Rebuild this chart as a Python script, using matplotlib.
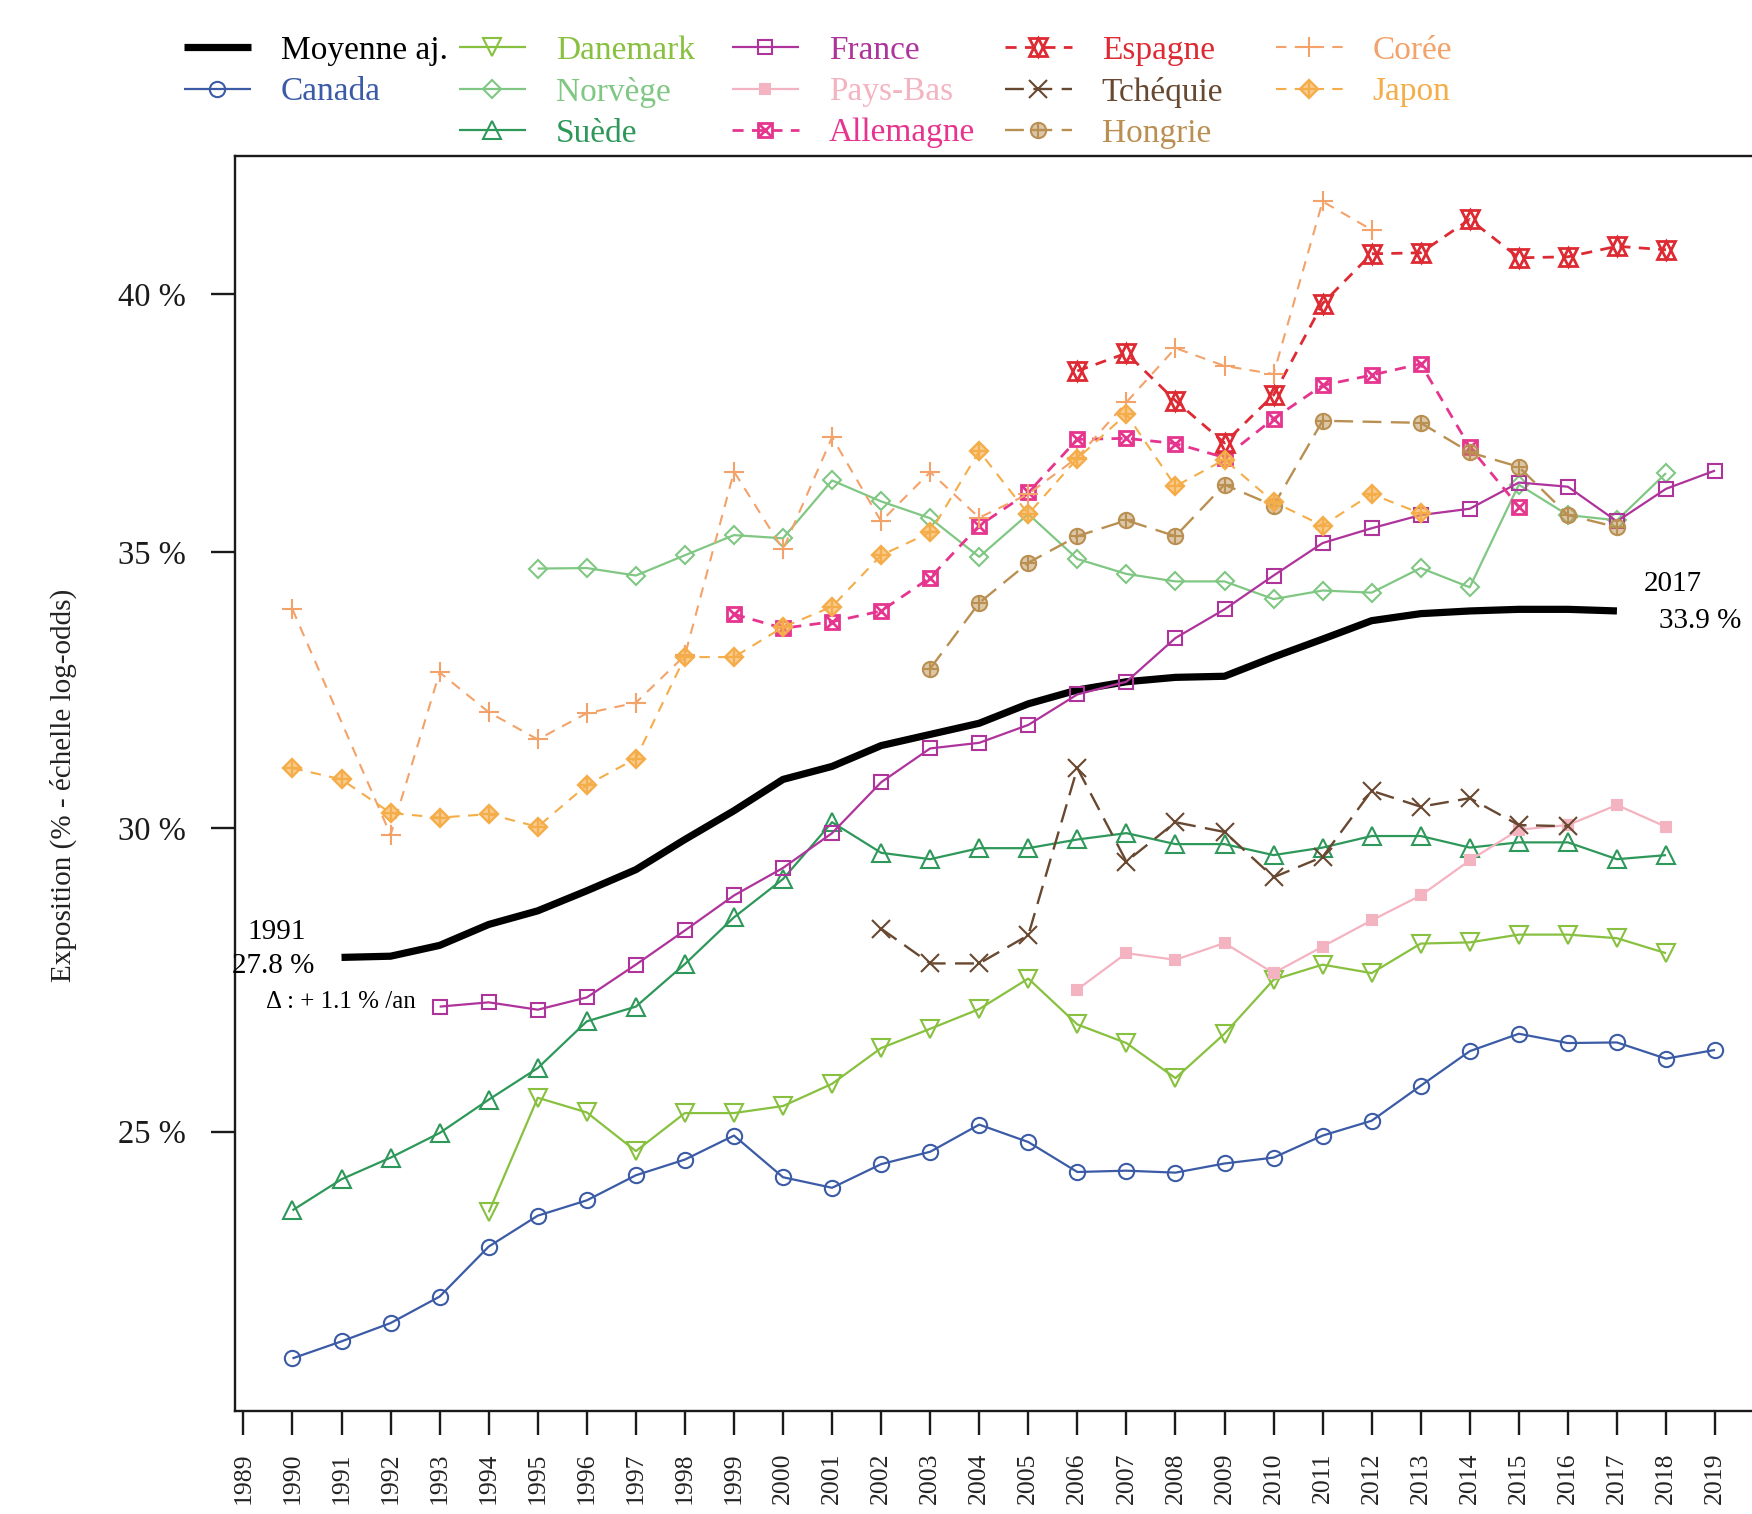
import numpy as np
import matplotlib
matplotlib.use("Agg")
import matplotlib.pyplot as plt
from matplotlib.ticker import NullLocator, NullFormatter
from matplotlib.colors import to_rgba

plt.rcParams['font.family'] = ['Liberation Serif', 'DejaVu Serif']

nan = np.nan

# ---------------- data (percent) ----------------
moyenne_years = list(range(1991, 2018))
moyenne = [27.8, 27.82, 28.0, 28.35, 28.58, 28.92, 29.28, 29.8, 30.3, 30.85,
           31.08, 31.45, 31.65, 31.85, 32.2, 32.45, 32.6, 32.68, 32.7, 33.05,
           33.38, 33.72, 33.85, 33.9, 33.93, 33.93, 33.9]

canada_years = list(range(1990, 2020))
canada = [21.65, 21.89, 22.15, 22.53, 23.26, 23.72, 23.95, 24.33, 24.57, 24.94,
          24.3, 24.14, 24.5, 24.69, 25.11, 24.84, 24.38, 24.4, 24.37, 24.51,
          24.6, 24.94, 25.17, 25.72, 26.27, 26.55, 26.4, 26.41, 26.15, 26.29]

danemark_years = list(range(1994, 2019))
danemark = [23.77, 25.53, 25.3, 24.7, 25.29, 25.29, 25.4, 25.75, 26.32, 26.63,
            26.95, 27.45, 26.7, 26.4, 25.84, 26.55, 27.43, 27.68, 27.54, 28.03,
            28.05, 28.18, 28.18, 28.12, 27.87]

norvege_years = list(range(1995, 2019))
norvege = [34.69, 34.7, 34.56, 34.94, 35.32, 35.26, 36.36, 35.96, 35.64, 34.91,
           35.72, 34.87, 34.59, 34.45, 34.45, 34.12, 34.28, 34.24, 34.7, 34.34,
           36.28, 35.7, 35.6, 36.5]

suede_years = list(range(1990, 2019))
suede = [23.8, 24.27, 24.6, 24.98, 25.5, 26.0, 26.75, 26.99, 27.69, 28.47,
         29.12, 30.1, 29.57, 29.46, 29.65, 29.65, 29.8, 29.91, 29.72, 29.72,
         29.53, 29.66, 29.86, 29.86, 29.66, 29.75, 29.75, 29.46, 29.53]

france_years = list(range(1993, 2020))
france = [26.99, 27.06, 26.94, 27.14, 27.68, 28.25, 28.84, 29.31, 29.91, 30.8,
          31.4, 31.5, 31.82, 32.37, 32.6, 33.4, 33.93, 34.56, 35.17, 35.45,
          35.7, 35.82, 36.32, 36.24, 35.58, 36.2, 36.55]

paysbas_years = list(range(2006, 2019))
paysbas = [27.27, 27.87, 27.76, 28.04, 27.54, 27.98, 28.42, 28.84, 29.44, 29.97,
           30.05, 30.4, 30.02]

allemagne_years = list(range(1999, 2016))
allemagne = [33.84, 33.58, 33.7, 33.9, 34.52, 35.5, 36.13, 37.15, 37.17, 37.07,
             36.8, 37.55, 38.2, 38.4, 38.62, 37.0, 35.86]

espagne_years = list(range(2006, 2019))
espagne = [38.48, 38.83, 37.9, 37.08, 38.01, 39.81, 40.8, 40.82, 41.49, 40.72,
           40.74, 40.95, 40.88]

tchequie_years = list(range(2002, 2017))
tchequie = [28.28, 27.7, 27.7, 28.17, 31.05, 29.42, 30.1, 29.93, 29.15, 29.5,
            30.65, 30.37, 30.52, 30.05, 30.03]

hongrie_years = list(range(2003, 2018))
hongrie = [32.84, 34.05, 34.8, 35.3, 35.6, 35.3, 36.28, 35.88, 37.51, nan,
           37.47, 36.9, 36.62, 35.7, 35.47]

coree_years = list(range(1990, 2013))
coree = [33.93, nan, 29.88, 32.77, 32.05, 31.56, 32.03, 32.22, 33.08, 36.53,
         35.05, 37.19, 35.58, 36.52, 35.65, 36.1, 36.8, 37.87, 38.93, 38.58,
         38.42, 41.85, 41.28]

japon_years = list(range(1990, 2014))
japon = [31.05, 30.85, 30.26, 30.18, 30.24, 30.02, 30.75, 31.22, 33.05, 33.05,
         33.6, 33.98, 34.94, 35.37, 36.92, 35.72, 36.78, 37.64, 36.25, 36.76,
         35.95, 35.5, 36.1, 35.73]

tick_years = list(range(1989, 2020))
ytick_pct = [25, 30, 35, 40]

# ---------------- figure ----------------
W, H = 1752, 1514
fig = plt.figure(figsize=(W / 100, H / 100), dpi=100)
ax = fig.add_axes([0.1339, 0.068, 0.985, 0.8287])
ax.set_yscale('logit')
ax.set_xlim(1988.82, 2024)
ax.set_ylim(0.2092, 0.4276)

C = {
    'can': '#3B5BA6', 'dan': '#88C040', 'nor': '#80C784', 'sue': '#2E985A',
    'fra': '#AE339B', 'pb': '#F4B3C0', 'all': '#E5358E', 'esp': '#DD2A33',
    'tch': '#684830', 'hon': '#BA9052', 'cor': '#F3A26A', 'jap': '#F5AD4A',
}


def series(yrs, vals, color, marker, ms, lw=1.6, dashes=None, overlay=None,
           mfc='none', mew=1.5, zorder=3):
    x = np.asarray(yrs, float)
    y = np.asarray(vals, float) / 100.0
    ok = ~np.isnan(y)
    line, = ax.plot(x[ok], y[ok], color=color, lw=lw, marker=marker, ms=ms,
                    mfc=mfc, mec=color, mew=mew, zorder=zorder,
                    solid_capstyle='butt', dash_capstyle='butt')
    if dashes is not None:
        line.set_dashes(dashes)
    handles = [line]
    if overlay is not None:
        m2, ms2 = overlay
        o, = ax.plot(x[ok], y[ok], ls='none', marker=m2, ms=ms2, mfc='none',
                     mec=color, mew=mew, color=color, zorder=zorder)
        handles.append(o)
    return tuple(handles) if len(handles) > 1 else handles[0]


h_moy, = ax.plot(np.asarray(moyenne_years, float), np.asarray(moyenne) / 100,
                 color='black', lw=5.2, zorder=2, solid_capstyle='butt')

h_can = series(canada_years, canada, C['can'], 'o', 11)
h_dan = series(danemark_years, danemark, C['dan'], 'v', 13)
h_nor = series(norvege_years, norvege, C['nor'], 'D', 9.2)
h_sue = series(suede_years, suede, C['sue'], '^', 13)
h_fra = series(france_years, france, C['fra'], 's', 10)
h_pb = series(paysbas_years, paysbas, C['pb'], 's', 7.5, mfc=C['pb'])
h_all = series(allemagne_years, allemagne, C['all'], 's', 10, lw=2.0,
               dashes=(4, 3), overlay=('x', 10), mew=2.0)
h_esp = series(espagne_years, espagne, C['esp'], '^', 13, lw=2.0,
               dashes=(4, 3), overlay=('v', 13), mew=2.0)
h_tch = series(tchequie_years, tchequie, C['tch'], 'x', 12.5, lw=1.7,
               dashes=(8, 4))
h_hon = series(hongrie_years, hongrie, C['hon'], 'o', 11, lw=1.7,
               dashes=(8, 4), overlay=('+', 11), mfc=to_rgba(C['hon'], 0.5))
h_cor = series(coree_years, coree, C['cor'], '+', 15, lw=1.5, dashes=(5, 4))
h_jap = series(japon_years, japon, C['jap'], 'D', 9.2, lw=1.5, dashes=(5, 4),
               overlay=('+', 13), mfc=to_rgba(C['jap'], 0.6), mew=1.7)

# ---------------- axes styling ----------------
for s in ax.spines.values():
    s.set_linewidth(1.7)
    s.set_color('#1a1a1a')

ax.set_xticks(tick_years)
ax.set_xticklabels([str(y) for y in tick_years], rotation=90, fontsize=18.5)
ax.set_yticks([p / 100 for p in ytick_pct])
ax.set_yticklabels([f"{p} %" for p in ytick_pct], fontsize=23.5)
ax.yaxis.set_minor_locator(NullLocator())
ax.yaxis.set_minor_formatter(NullFormatter())
ax.tick_params(axis='both', which='major', direction='out', length=17,
               width=1.7, pad=18, colors='#1a1a1a')
ax.tick_params(axis='x', which='major', labelcolor='#222222', pad=13)

fig.text(0.0364, 0.4815, "Exposition (% - échelle log-odds)", rotation=90,
         ha='center', va='center', fontsize=21, color='#222222')

# ---------------- annotations ----------------
y0, y1 = moyenne[0], moyenne[-1]
x0, x1 = moyenne_years[0], moyenne_years[-1]
logit = lambda p: np.log(p / (1 - p))
rate = (np.exp((logit(y1 / 100) - logit(y0 / 100)) / (x1 - x0)) - 1) * 100

ax.annotate(str(x0), xy=(x0, y0 / 100), xytext=(-46.7, 18.5),
            textcoords='offset points', ha='center', va='center', fontsize=21)
ax.annotate(f"{y0:.1f} %", xy=(x0, y0 / 100), xytext=(-49.4, -6.5),
            textcoords='offset points', ha='center', va='center', fontsize=21)
ax.annotate(f"Δ : + {rate:.1f} % /an", xy=(x0, y0 / 100), xytext=(-0.7, -32),
            textcoords='offset points', ha='center', va='center', fontsize=18)
ax.annotate(str(x1), xy=(x1, y1 / 100), xytext=(40, 19.4),
            textcoords='offset points', ha='center', va='center', fontsize=21)
ax.annotate(f"{y1:.1f} %", xy=(x1, y1 / 100), xytext=(59.8, -7.2),
            textcoords='offset points', ha='center', va='center', fontsize=21)

# ---------------- legend (5 columns) ----------------
columns = [
    [("Moyenne aj.", h_moy, 'black'), ("Canada", h_can, C['can'])],
    [("Danemark", h_dan, C['dan']), ("Norvège", h_nor, C['nor']),
     ("Suède", h_sue, C['sue'])],
    [("France", h_fra, C['fra']), ("Pays-Bas", h_pb, C['pb']),
     ("Allemagne", h_all, C['all'])],
    [("Espagne", h_esp, C['esp']), ("Tchéquie", h_tch, C['tch']),
     ("Hongrie", h_hon, C['hon'])],
    [("Corée", h_cor, C['cor']), ("Japon", h_jap, C['jap'])],
]
col_x = [184, 459, 732, 1005, 1276]
for cx, col in zip(col_x, columns):
    leg = fig.legend([c[1] for c in col], [c[0] for c in col],
                     loc='upper left', bbox_to_anchor=(cx / W, 1 - 35.5 / H),
                     frameon=False, fontsize=24, handlelength=2.0,
                     handletextpad=0.9, labelspacing=0.32, borderpad=0,
                     borderaxespad=0, numpoints=1)
    for t, c in zip(leg.get_texts(), col):
        t.set_color(c[2])

fig.savefig("out.png", dpi=100)
